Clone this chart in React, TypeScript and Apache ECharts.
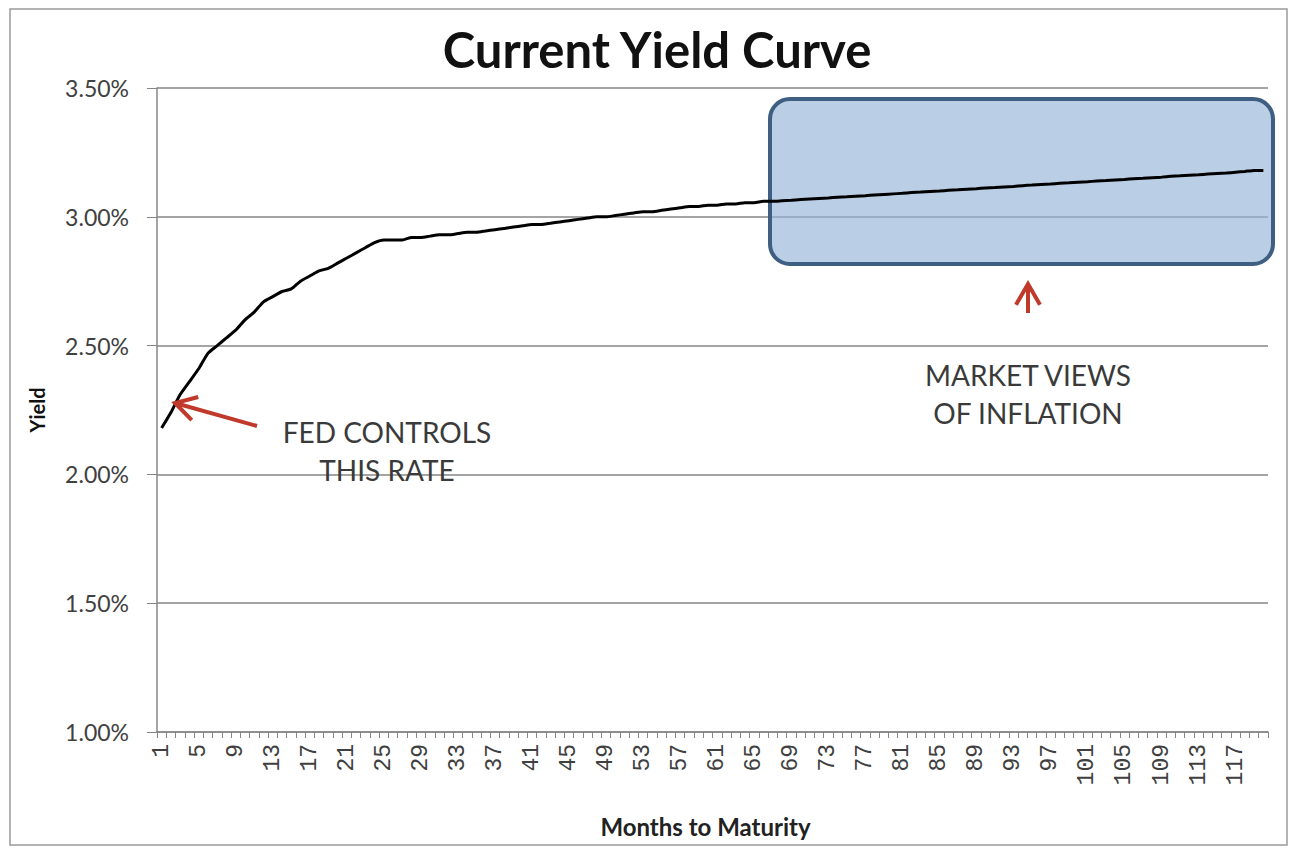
import React, { useEffect, useRef } from "react";
import * as echarts from "echarts";

const months: string[] = Array.from({ length: 120 }, (_, i) => String(i + 1));

const yieldPct: number[] = [
  2.18, 2.24, 2.31, 2.36, 2.41, 2.47, 2.5, 2.53, 2.56, 2.6,
  2.63, 2.67, 2.69, 2.71, 2.72, 2.75, 2.77, 2.79, 2.8, 2.82,
  2.84, 2.86, 2.88, 2.9, 2.91, 2.91, 2.91, 2.92, 2.92, 2.925,
  2.93, 2.93, 2.935, 2.94, 2.94, 2.945, 2.95, 2.955, 2.96, 2.965,
  2.97, 2.97, 2.975, 2.98, 2.985, 2.99, 2.995, 3.0, 3.0, 3.005,
  3.01, 3.015, 3.02, 3.02, 3.025, 3.03, 3.035, 3.04, 3.04, 3.045,
  3.045, 3.05, 3.05, 3.055, 3.055, 3.06, 3.06, 3.062, 3.064, 3.067,
  3.069, 3.071, 3.073, 3.076, 3.078, 3.08, 3.082, 3.085, 3.087, 3.089,
  3.091, 3.094, 3.096, 3.098, 3.1, 3.103, 3.105, 3.107, 3.109, 3.112,
  3.114, 3.116, 3.118, 3.121, 3.123, 3.125, 3.127, 3.13, 3.132, 3.134,
  3.136, 3.139, 3.141, 3.143, 3.145, 3.148, 3.15, 3.152, 3.154, 3.157,
  3.159, 3.161, 3.163, 3.166, 3.168, 3.17, 3.173, 3.176, 3.18, 3.18,
];

const yMin = 1.0;
const yMax = 3.5;
const yStep = 0.5;

const titleText = "Current Yield Curve";
const xAxisName = "Months to Maturity";
const yAxisName = "Yield";
const noteFed = "FED CONTROLS\nTHIS RATE";
const noteMarket = "MARKET VIEWS\nOF INFLATION";

const FONT = "Lato, 'Open Sans', sans-serif";
const GRAY = "#868686";
const TEXT = "#404040";
const RED = "#c0392b";

export default function App() {
  const ref = useRef<HTMLDivElement>(null);

  useEffect(() => {
    if (!ref.current) return;
    const chart = echarts.init(ref.current, undefined, { renderer: "svg" });

    const arrow = (tip: [number, number], tail: [number, number]) => {
      const dx = tail[0] - tip[0];
      const dy = tail[1] - tip[1];
      const len = Math.hypot(dx, dy);
      const ux = dx / len;
      const uy = dy / len;
      const L = 24;
      const a = Math.PI / 6;
      const r1: [number, number] = [
        tip[0] + L * (ux * Math.cos(a) - uy * Math.sin(a)),
        tip[1] + L * (ux * Math.sin(a) + uy * Math.cos(a)),
      ];
      const r2: [number, number] = [
        tip[0] + L * (ux * Math.cos(-a) - uy * Math.sin(-a)),
        tip[1] + L * (ux * Math.sin(-a) + uy * Math.cos(-a)),
      ];
      return [
        {
          type: "line",
          z: 10,
          shape: { x1: tail[0], y1: tail[1], x2: tip[0], y2: tip[1] },
          style: { stroke: RED, lineWidth: 4 },
        },
        {
          type: "polyline",
          z: 10,
          shape: { points: [r1, tip, r2] },
          style: { stroke: RED, lineWidth: 4, fill: "none" },
        },
      ];
    };

    chart.setOption({
      animation: false,
      backgroundColor: "#ffffff",
      title: {
        text: titleText,
        left: 652,
        top: 19,
        textAlign: "center",
        textStyle: {
          fontFamily: FONT,
          fontWeight: "bold",
          fontSize: 49,
          color: "#111111",
        },
      },
      grid: { left: 157, right: 25, top: 88, bottom: 116, containLabel: false },
      xAxis: {
        type: "category",
        data: months,
        boundaryGap: true,
        name: xAxisName,
        nameLocation: "middle",
        nameGap: 82,
        nameTextStyle: {
          fontFamily: FONT,
          fontWeight: "bold",
          fontSize: 24,
          color: "#222222",
          padding: [0, 14, 0, 0],
        },
        axisLine: { show: true, lineStyle: { color: GRAY, width: 1.5 } },
        axisTick: { show: true, interval: 0, length: 6, lineStyle: { color: GRAY } },
        axisLabel: {
          interval: 3,
          rotate: 90,
          margin: 12,
          fontFamily: "'Liberation Mono', 'DejaVu Sans Mono', monospace",
          fontSize: 23,
          color: TEXT,
        },
        splitLine: { show: false },
      },
      yAxis: {
        type: "value",
        min: yMin,
        max: yMax,
        interval: yStep,
        name: yAxisName,
        nameLocation: "middle",
        nameGap: 110,
        nameRotate: 90,
        nameTextStyle: {
          fontFamily: FONT,
          fontWeight: "bold",
          fontSize: 20,
          color: "#111111",
        },
        axisLine: { show: true, lineStyle: { color: GRAY, width: 1.5 } },
        axisTick: { show: true, length: 10, inside: false, lineStyle: { color: GRAY } },
        axisLabel: {
          margin: 28,
          fontFamily: FONT,
          fontSize: 23,
          color: TEXT,
          formatter: (v: number) => v.toFixed(2) + "%",
        },
        splitLine: { show: true, lineStyle: { color: GRAY, width: 1.5 } },
      },
      series: [
        {
          type: "line",
          data: yieldPct,
          showSymbol: false,
          smooth: 0.2,
          z: 5,
          lineStyle: { color: "#000000", width: 3 },
        },
      ],
      graphic: [
        {
          type: "rect",
          z: -10,
          silent: true,
          shape: { x: 10, y: 9, width: 1277, height: 836 },
          style: { fill: "none", stroke: "#9a9a9a", lineWidth: 1.5 },
        },
        {
          type: "rect",
          z: 1,
          silent: true,
          shape: { x: 770, y: 99, width: 503, height: 165, r: 20 },
          style: {
            fill: "rgba(149,179,215,0.65)",
            stroke: "#3f5f82",
            lineWidth: 4,
          },
        },
        ...arrow([175, 403], [257, 426]),
        ...arrow([1028, 284], [1028, 313]),
        {
          type: "text",
          z: 10,
          x: 387,
          y: 451,
          style: {
            text: noteFed,
            fontFamily: FONT,
            fontSize: 28,
            lineHeight: 38,
            fill: "#3a3a3a",
            textAlign: "center",
            textVerticalAlign: "middle",
          },
        },
        {
          type: "text",
          z: 10,
          x: 1028,
          y: 394,
          style: {
            text: noteMarket,
            fontFamily: FONT,
            fontSize: 28,
            lineHeight: 38,
            fill: "#3a3a3a",
            textAlign: "center",
            textVerticalAlign: "middle",
          },
        },
      ],
    });

    return () => {
      chart.dispose();
    };
  }, []);

  return (
    <div
      ref={ref}
      style={{ position: "fixed", left: 0, top: 0, width: 1293, height: 848 }}
    />
  );
}
